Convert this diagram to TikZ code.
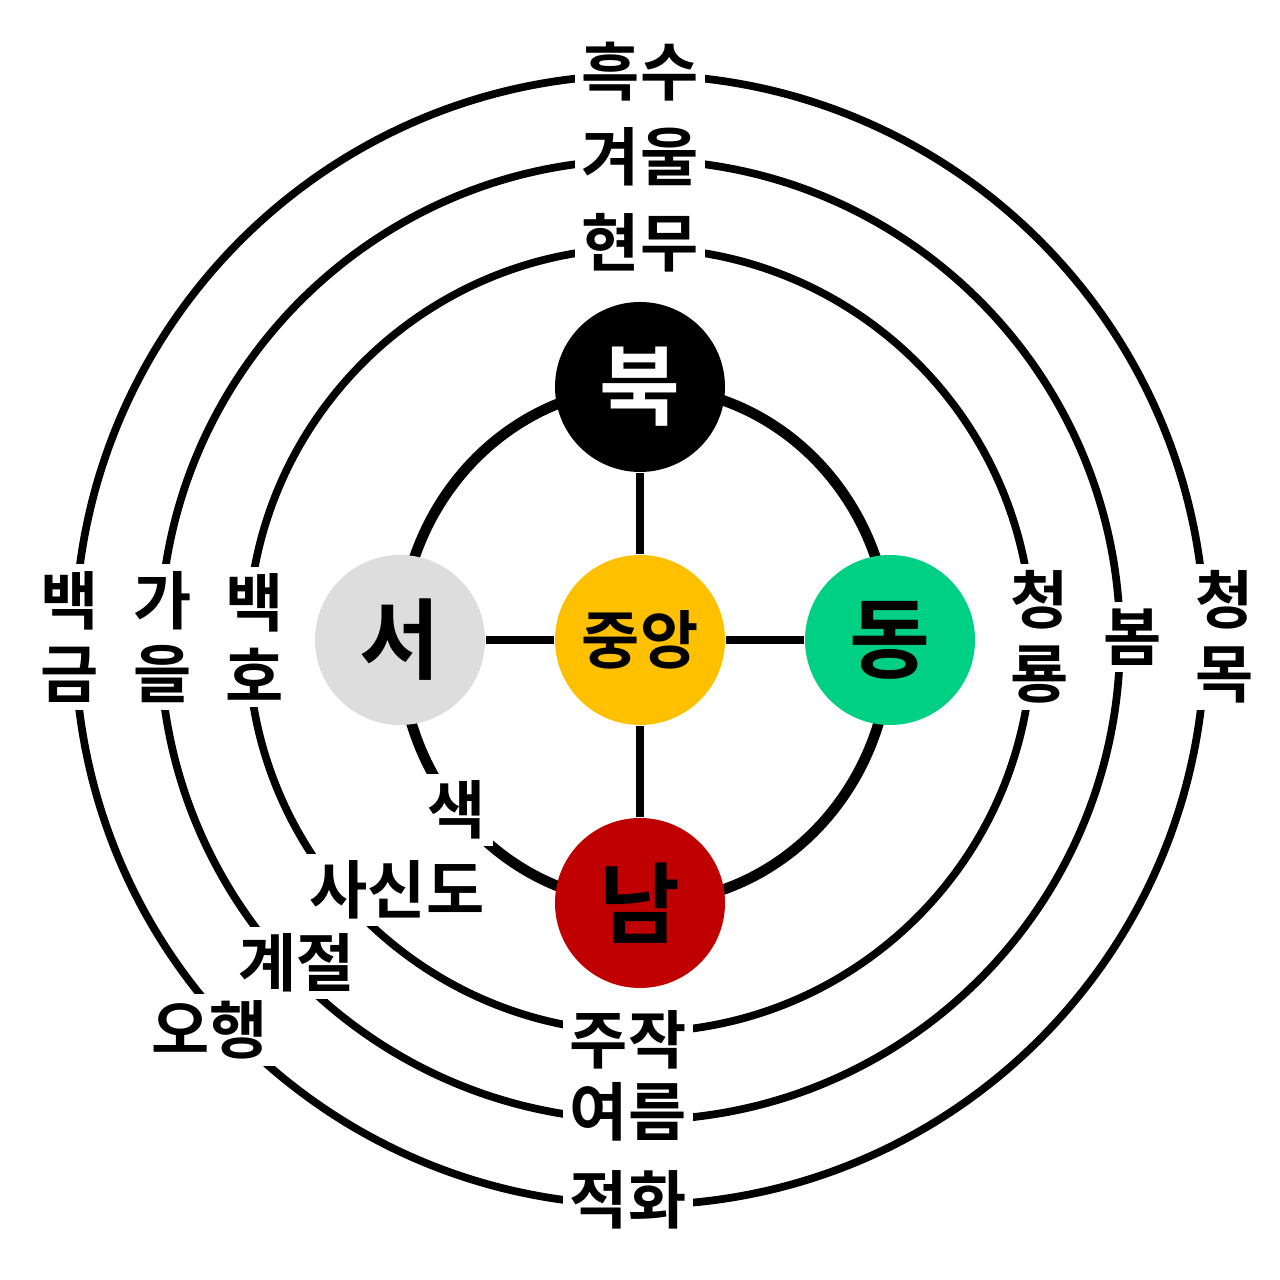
\documentclass[tikz,border=0pt]{standalone}
\usepackage{fontspec}
\setmainfont{Noto Sans CJK KR}[BoldFont={Noto Sans CJK KR Bold}]
\begin{document}
\begin{tikzpicture}[
    ring/.style={line width=2.2pt},
    lbl/.style={fill=white, font=\bfseries\fontsize{18}{21}\selectfont, inner sep=2pt, align=center},
    dir/.style={circle, minimum size=1.7cm, inner sep=0pt, font=\bfseries\fontsize{25}{27}\selectfont}
]
    \useasboundingbox (-6.4,-6.4) rectangle (6.4,6.4);
    \definecolor{seo}{HTML}{DDDDDD}
    \definecolor{dong}{HTML}{00D084}
    \definecolor{nam}{HTML}{C00000}
    \definecolor{jung}{HTML}{FFC000}

    \draw[ring] (0,0) circle (5.65);
    \draw[ring] (0,0) circle (4.8);
    \draw[ring] (0,0) circle (3.92);
    \draw[line width=3pt] (0.05,-0.05) ellipse[x radius=2.45, y radius=2.58];

    \node[dir, fill=jung, font=\bfseries\fontsize{18}{20}\selectfont] (c) at (0,0) {중앙};
    \node[dir, fill=black, text=white] (n) at (0,2.53) {북};
    \node[dir, fill=seo] (w) at (-2.4,0) {서};
    \node[dir, fill=dong] (e) at (2.5,0) {동};
    \node[dir, fill=nam] (s) at (0,-2.63) {남};

    \draw[ring] (c) -- (n);
    \draw[ring] (c) -- (s);
    \draw[ring] (c) -- (w);
    \draw[ring] (c) -- (e);

    % top and bottom
    \node[lbl] (t1) at (0,5.68) {흑수};
    \node[lbl] (t2) at (0,4.83) {겨울};
    \node[lbl] (t3) at (0,3.97) {현무};
    \node[lbl] (b1) at (-0.12,-4.0) {주작};
    \node[lbl] (b2) at (-0.12,-4.72) {여름};
    \node[lbl] (b3) at (-0.12,-5.6) {적화};
    % left and right
    \node[lbl] (l1) at (-5.7,0.03) {백\\금};
    \node[lbl] (l2) at (-4.77,0.03) {가\\을};
    \node[lbl] (l3) at (-3.85,0.03) {백\\호};
    \node[lbl] (r1) at (4.0,0.03) {청\\룡};
    \node[lbl] (r2) at (4.93,0.03) {봄};
    \node[lbl] (r3) at (5.85,0.03) {청\\목};
    % captions
    \node[lbl] (k1) at (-1.83,-1.7) {색};
    \node[lbl] (k2) at (-2.43,-2.5) {사신도};
    \node[lbl] (k3) at (-3.43,-3.23) {계절};
    \node[lbl] (k4) at (-4.3,-3.9) {오행};
\end{tikzpicture}
\end{document}
